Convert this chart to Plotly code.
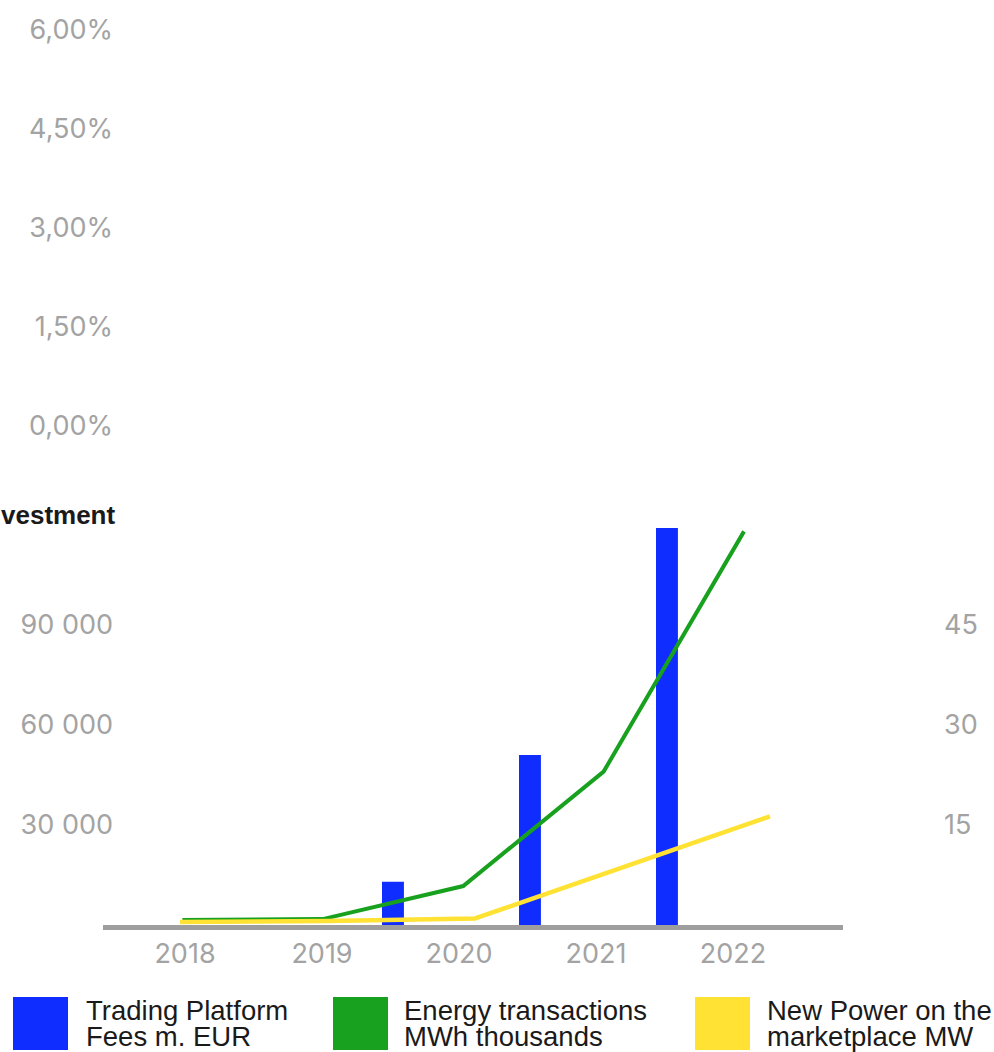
import plotly.graph_objects as go

# ---------------- data ----------------
years = [2018, 2019, 2020, 2021, 2022]
bar_years = [2020, 2021, 2022]
trading_fees = [13000, 51000, 119000]                     # left axis
energy_transactions = [1500, 1800, 11700, 46000, 118000]  # left axis
new_power = [0.45, 0.6, 1.0, 8.7, 16.3]                   # right axis

left_ticks = [30000, 60000, 90000]
right_ticks = [15, 30, 45]
pct_ticks = [0, 0.015, 0.03, 0.045, 0.06]

series_labels = [
    ("Trading Platform", "Fees m. EUR"),
    ("Energy transactions", "MWh thousands"),
    ("New Power on the", "marketplace MW"),
]
title_text = "vestment"

# ---------------- style ----------------
W, H = 994, 1052
HE = 1037  # effective rendered paper height used for placement
BLUE = "#0f2dff"
GREEN = "#18a11e"
YELLOW = "#ffe233"
TICK_GRAY = "#a3a3a3"
BASE_GRAY = "#9e9e9e"
colors = [BLUE, GREEN, YELLOW]
TICK_FONT = dict(family="Inter, Open Sans, sans-serif", size=27, color=TICK_GRAY)
TEXT_FONT = dict(family="Liberation Sans, Arial, sans-serif", size=27.5, color="#1a1a1a")


def px_x(p):
    return p / W


def px_y(p):
    return 1 - p / HE


x_dom = [px_x(103), px_x(843)]

fig = go.Figure()

fig.add_trace(go.Bar(
    x=bar_years, y=trading_fees, xaxis="x", yaxis="y",
    marker=dict(color=BLUE, line=dict(width=0)),
    width=0.16, offset=-0.562, showlegend=False, name=" ".join(series_labels[0]),
))
fig.add_trace(go.Scatter(
    x=years, y=energy_transactions, xaxis="x3", yaxis="y",
    mode="lines", line=dict(color=GREEN, width=4),
    showlegend=False, name=" ".join(series_labels[1]),
))
fig.add_trace(go.Scatter(
    x=years, y=new_power, xaxis="x4", yaxis="y2",
    mode="lines", line=dict(color=YELLOW, width=4.5),
    showlegend=False, name=" ".join(series_labels[2]),
))
# empty percentage panel on top
fig.add_trace(go.Scatter(x=[], y=[], xaxis="x2", yaxis="y3", showlegend=False))

fig.update_layout(
    width=W, height=H,
    margin=dict(l=0, r=0, t=0, b=0),
    paper_bgcolor="white", plot_bgcolor="white",
    separators=", ",
    showlegend=False,
    xaxis=dict(
        domain=x_dom, anchor="y",
        range=[2017.4015, 2022.803],
        tickvals=years, tickformat="d",
        showline=True, linecolor=BASE_GRAY, linewidth=5,
        showgrid=False, zeroline=False, ticks="",
        tickfont=TICK_FONT,
    ),
    xaxis3=dict(overlaying="x", anchor="y", range=[2017.4345, 2022.705], visible=False),
    xaxis4=dict(overlaying="x", anchor="y", range=[2017.478, 2022.495], visible=False),
    yaxis=dict(
        domain=[px_y(926), px_y(500)], anchor="x",
        range=[0, 127545],
        tickvals=left_ticks, tickformat=",",
        showgrid=False, zeroline=False, showline=False, ticks="",
        tickfont=TICK_FONT, ticklabelstandoff=-11,
    ),
    yaxis2=dict(
        overlaying="y", side="right", anchor="free", position=px_x(943),
        range=[0, 63.77],
        tickvals=right_ticks,
        showgrid=False, zeroline=False, showline=False, ticks="",
        tickfont=TICK_FONT,
    ),
    xaxis2=dict(domain=x_dom, anchor="y3", range=[0, 1], visible=False),
    yaxis3=dict(
        domain=[px_y(426), px_y(14)], anchor="x2",
        range=[0, 0.06242],
        tickvals=pct_ticks, tickformat=".2%",
        showgrid=False, zeroline=False, showline=False, ticks="",
        tickfont=TICK_FONT, ticklabelstandoff=-11,
    ),
)

# title fragment
fig.add_annotation(
    text=title_text, xref="paper", yref="paper",
    x=px_x(-1), y=px_y(515), xanchor="left", yanchor="middle",
    showarrow=False,
    font=dict(family="Liberation Sans, Arial, sans-serif", size=26, color="#1a1a1a", weight="bold"),
)

# custom legend
sq_left = [13, 333, 695]
txt_left = [84, 402, 765]
for i, (lines, col) in enumerate(zip(series_labels, colors)):
    fig.add_shape(
        type="rect", xref="paper", yref="paper",
        x0=px_x(sq_left[i]), x1=px_x(sq_left[i] + 55),
        y0=px_y(1051), y1=px_y(998),
        fillcolor=col, line=dict(width=0),
    )
    for j, line_txt in enumerate(lines):
        fig.add_annotation(
            text=line_txt, xref="paper", yref="paper",
            x=px_x(txt_left[i]), y=px_y(1011 + 27 * j),
            xanchor="left", yanchor="middle", showarrow=False,
            font=TEXT_FONT,
        )

fig.write_html("out.html")
